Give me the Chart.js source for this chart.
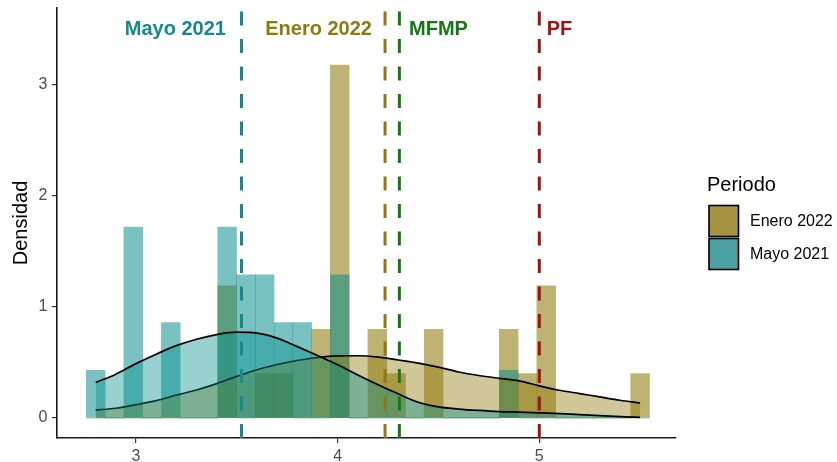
<!DOCTYPE html>
<html>
<head>
<meta charset="utf-8">
<script src="https://cdn.jsdelivr.net/npm/chart.js@4.4.0/dist/chart.umd.min.js"></script>
<style>
  html, body { margin: 0; padding: 0; background: #fff; }
  #wrap { width: 837px; height: 462px; }
</style>
</head>
<body>
<div id="wrap"><canvas id="myChart"></canvas></div>
<script>
// histogram bins (centers) and densities per period
const binCenters = [2.8, 2.8931, 2.9862, 3.0793, 3.1724, 3.2655, 3.3586, 3.4517, 3.5448, 3.6379,
  3.731, 3.8241, 3.9172, 4.0103, 4.1034, 4.1966, 4.2897, 4.3828, 4.4759, 4.569,
  4.6621, 4.7552, 4.8483, 4.9414, 5.0345, 5.1276, 5.2207, 5.3138, 5.4069, 5.5]
const eneroDensity = [0, 0, 0, 0, 0, 0, 0, 1.19, 0, 0.40,
  0.40, 0, 0.80, 3.18, 0, 0.80, 0.40, 0, 0.80, 0,
  0, 0, 0.80, 0.40, 1.19, 0, 0, 0, 0, 0.40]
const mayoDensity = [0.43, 0, 1.72, 0, 0.86, 0, 0, 1.72, 1.29, 1.29,
  0.86, 0.86, 0, 1.29, 0, 0, 0, 0, 0, 0,
  0, 0, 0.43, 0, 0, 0, 0, 0, 0, 0]

// density curves
const curveX = [2.8, 2.9, 3.0, 3.1, 3.2, 3.3, 3.4, 3.5, 3.6, 3.7, 3.8, 3.9, 4.0, 4.1,
  4.2, 4.3, 4.4, 4.5, 4.6, 4.7, 4.8, 4.9, 5.0, 5.1, 5.2, 5.3, 5.4, 5.5]
const eneroCurve = [0.072, 0.088, 0.12, 0.157, 0.207, 0.252, 0.31, 0.375, 0.435, 0.482, 0.518, 0.545, 0.559, 0.561,
  0.549, 0.523, 0.495, 0.459, 0.415, 0.383, 0.358, 0.335, 0.29, 0.25, 0.22, 0.19, 0.16, 0.134]
const mayoCurve = [0.32, 0.395, 0.49, 0.575, 0.652, 0.71, 0.752, 0.773, 0.765, 0.72, 0.643, 0.563, 0.48, 0.387,
  0.30, 0.218, 0.142, 0.1, 0.081, 0.068, 0.058, 0.053, 0.047, 0.04, 0.03, 0.021, 0.013, 0.006]

// reference lines
const refLabels = ['Mayo 2021', 'Enero 2022', 'MFMP', 'PF']
const refValues = [3.523, 4.235, 4.306, 5.0]

const xTicks = [3, 4, 5]
const yTicks = [0, 1, 2, 3]
const legendLabels = ['Enero 2022', 'Mayo 2021']

const refColors = ['#17898c', '#8d7b12', '#137a13', '#9e1212']
const refLabelX = [3.446, 4.170, 4.354, 5.037]
const refAlign = ['right', 'right', 'left', 'left']
const X_MIN = 2.608, X_MAX = 5.678, Y_MIN = -0.18, Y_MAX = 3.694

Chart.defaults.font.family = "'Liberation Sans', Arial, sans-serif"

const refLines = refValues.map((v, i) => ({
  type: 'line',
  label: refLabels[i],
  data: [{x: v, y: Y_MIN}, {x: v, y: Y_MAX}],
  borderColor: refColors[i],
  borderWidth: 3,
  borderDash: [14, 13.5],
  pointRadius: 0,
  fill: false,
  order: 2
}))

const refText = {
  id: 'refText',
  afterDatasetsDraw(chart) {
    const {ctx, scales: {x, y}} = chart
    ctx.save()
    ctx.font = "bold 20px 'Liberation Sans', Arial, sans-serif"
    ctx.textBaseline = 'alphabetic'
    refLabels.forEach((t, i) => {
      ctx.fillStyle = refColors[i]
      ctx.textAlign = refAlign[i]
      ctx.fillText(t, x.getPixelForValue(refLabelX[i]), y.getPixelForValue(3.51) + 7)
    })
    ctx.restore()
  }
}

const sideLegend = {
  id: 'sideLegend',
  afterDraw(chart) {
    const ctx = chart.ctx
    const keyColors = ['#a39342', '#4aa0a1']
    ctx.save()
    ctx.fillStyle = '#000'
    ctx.font = "20px 'Liberation Sans', Arial, sans-serif"
    ctx.textAlign = 'left'
    ctx.textBaseline = 'alphabetic'
    ctx.fillText('Periodo', 707, 191)
    ctx.font = "16px 'Liberation Sans', Arial, sans-serif"
    ctx.textBaseline = 'middle'
    legendLabels.forEach((t, i) => {
      const top = 205.5 + i * 33
      ctx.fillStyle = keyColors[i]
      ctx.fillRect(709, top, 29.5, 31)
      ctx.strokeStyle = '#000'
      ctx.lineWidth = 1.6
      ctx.strokeRect(709, top, 29.5, 31)
      ctx.fillStyle = '#000'
      ctx.fillText(t, 750, top + 16.5)
    })
    ctx.restore()
  }
}

const ctx = document.getElementById('myChart')

const myChart = new Chart(ctx, {
  type: 'bar',
  data: {
    datasets: [
      {
        type: 'bar',
        label: 'Enero 2022',
        data: binCenters.map((x, i) => ({x: x, y: eneroDensity[i]})),
        backgroundColor: 'rgba(139, 117, 0, 0.55)',
        borderWidth: 0,
        grouped: false,
        barPercentage: 1,
        categoryPercentage: 1,
        order: 6
      },
      {
        type: 'bar',
        label: 'Mayo 2021',
        data: binCenters.map((x, i) => ({x: x, y: mayoDensity[i]})),
        backgroundColor: 'rgba(0, 139, 139, 0.52)',
        borderWidth: 0,
        grouped: false,
        barPercentage: 1,
        categoryPercentage: 1,
        order: 5
      },
      {
        type: 'line',
        label: 'Enero 2022 densidad',
        data: curveX.map((x, i) => ({x: x, y: eneroCurve[i]})),
        borderColor: '#000',
        borderWidth: 1.7,
        backgroundColor: 'rgba(139, 117, 0, 0.4)',
        fill: 'origin',
        pointRadius: 0,
        cubicInterpolationMode: 'monotone',
        order: 4
      },
      {
        type: 'line',
        label: 'Mayo 2021 densidad',
        data: curveX.map((x, i) => ({x: x, y: mayoCurve[i]})),
        borderColor: '#000',
        borderWidth: 1.7,
        backgroundColor: 'rgba(0, 139, 139, 0.4)',
        fill: 'origin',
        pointRadius: 0,
        cubicInterpolationMode: 'monotone',
        order: 3
      },
      ...refLines
    ]
  },
  options: {
    responsive: true,
    maintainAspectRatio: false,
    animation: false,
    layout: { padding: { top: 8, right: 161, left: 0, bottom: 0 } },
    plugins: {
      legend: { display: false },
      tooltip: { enabled: false }
    },
    scales: {
      x: {
        type: 'linear',
        min: X_MIN,
        max: X_MAX,
        offset: false,
        afterBuildTicks: (s) => { s.ticks = xTicks.map(v => ({value: v})) },
        afterFit: (s) => { s.height = 24; s.paddingLeft = 0; s.paddingRight = 0 },
        grid: { offset: false, drawOnChartArea: false, tickLength: 5, color: '#333', lineWidth: 1.2 },
        border: { color: '#1a1a1a', width: 1.6 },
        ticks: { color: '#4d4d4d', font: { size: 16 }, padding: 4, maxRotation: 0 }
      },
      y: {
        type: 'linear',
        min: Y_MIN,
        max: Y_MAX,
        afterBuildTicks: (s) => { s.ticks = yTicks.map(v => ({value: v})) },
        afterFit: (s) => { s.width = 57; s.paddingTop = 0; s.paddingBottom = 0 },
        title: { display: true, text: 'Densidad', color: '#000', font: { size: 20 }, padding: { top: 9, bottom: 0 } },
        grid: { drawOnChartArea: false, tickLength: 5, color: '#333', lineWidth: 1.2 },
        border: { color: '#1a1a1a', width: 1.6 },
        ticks: { color: '#4d4d4d', font: { size: 16 }, padding: 4.5 }
      }
    }
  },
  plugins: [refText, sideLegend]
})
</script>
</body>
</html>
